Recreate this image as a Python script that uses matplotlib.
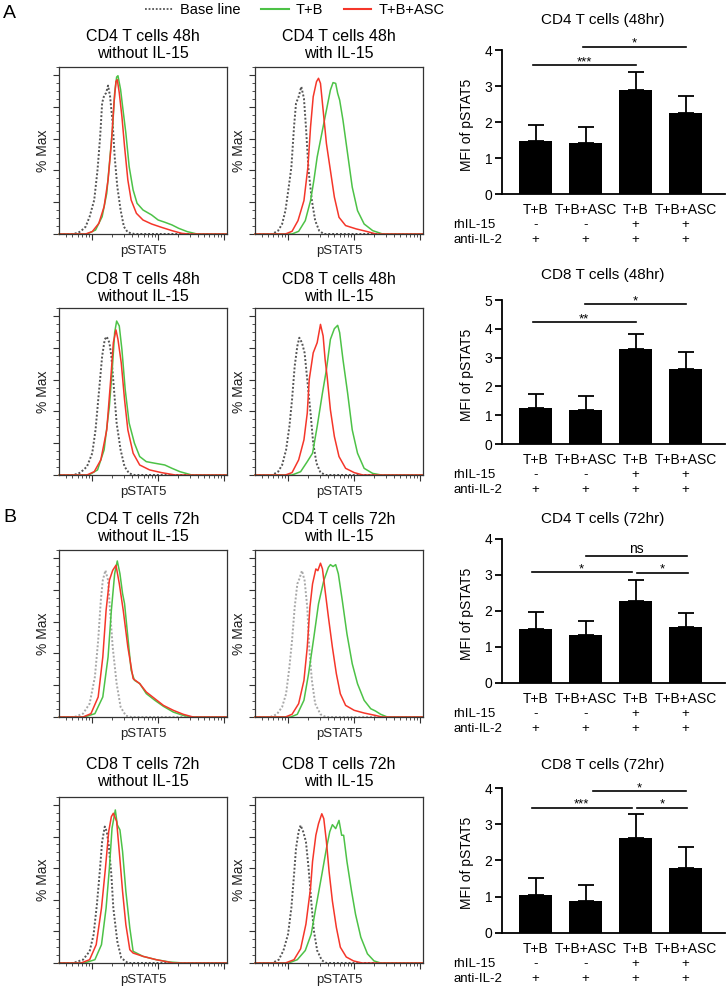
import matplotlib

matplotlib.use("Agg")

import matplotlib.pyplot as plt  # noqa: E402
import numpy as np  # noqa: E402
from matplotlib.lines import Line2D  # noqa: E402
from matplotlib.ticker import FixedLocator, LogLocator, MultipleLocator, NullFormatter  # noqa: E402

plt.rcParams["font.family"] = ["Liberation Sans", "DejaVu Sans"]

# ---------------------------------------------------------------------------
# Flow histograms: (log10 pSTAT5 intensity, % of max)
# ---------------------------------------------------------------------------
CD4_48_NO_BASE = [(1.72, 0), (1.82, 1.5), (1.90, 4.6), (1.96, 10.9), (2.03, 21.4), (2.08, 40.3),
                  (2.12, 61.3), (2.15, 82.4), (2.18, 87), (2.21, 88.7), (2.24, 93.3), (2.27, 86.6),
                  (2.31, 69.7), (2.34, 48.7), (2.38, 29.8), (2.43, 15.1), (2.48, 4.6), (2.54, 1), (2.64, 0)]
CD4_48_NO_TB = [(1.92, 0), (2.05, 2.5), (2.15, 10.9), (2.22, 25.6), (2.27, 48.7), (2.31, 67.6), (2.34, 88.7),
                (2.37, 98.7), (2.39, 99.5), (2.43, 90.8), (2.46, 80.3), (2.51, 63.4), (2.56, 42.4), (2.62, 27.7),
                (2.68, 19.3), (2.77, 15.1), (2.90, 12), (3.0, 8.8), (3.10, 7.4), (3.21, 5.7), (3.31, 3.6),
                (3.44, 1.5), (3.59, 0)]
CD4_48_NO_ASC = [(1.90, 0), (2.0, 1.5), (2.10, 6.7), (2.18, 17.2), (2.24, 34), (2.29, 57.1), (2.33, 82.4),
                 (2.36, 96), (2.38, 97), (2.41, 88.7), (2.45, 73.9), (2.49, 55), (2.54, 34), (2.59, 21.4),
                 (2.67, 13), (2.77, 8.8), (2.90, 6.3), (3.05, 4.2), (3.21, 2.1), (3.36, 0.4), (3.46, 0)]

CD4_48_IL_BASE = [(1.76, 0), (1.85, 2.1), (1.91, 6.3), (1.96, 14.7), (2.01, 29.5), (2.05, 42.1), (2.09, 67.4),
                  (2.12, 82.1), (2.16, 86.3), (2.20, 92.6), (2.24, 85.3), (2.27, 67.4), (2.31, 40), (2.36, 21),
                  (2.41, 8.4), (2.47, 2.1), (2.54, 0)]
CD4_48_IL_TB = [(2.06, 0), (2.16, 1.7), (2.26, 8.4), (2.34, 21), (2.39, 33.7), (2.44, 48.4), (2.51, 63.2),
                (2.58, 77.9), (2.64, 90.5), (2.68, 95.2), (2.72, 94.7), (2.75, 88.4), (2.78, 84.2), (2.83, 71.6),
                (2.90, 50.5), (2.97, 29.5), (3.05, 14.7), (3.15, 6.3), (3.28, 2.1), (3.43, 0)]
CD4_48_IL_ASC = [(1.96, 0), (2.06, 1.7), (2.15, 8.4), (2.24, 21), (2.30, 42.1), (2.34, 67.4), (2.38, 86.3),
                 (2.43, 95.8), (2.46, 97.9), (2.49, 94.7), (2.53, 77.9), (2.58, 56.8), (2.64, 40), (2.70, 23.2),
                 (2.77, 10.5), (2.87, 5.3), (3.03, 3.2), (3.18, 1.7), (3.33, 0)]

CD8_48_NO_BASE = [(1.72, 0), (1.82, 1.5), (1.92, 5.3), (2.0, 13.7), (2.05, 28.4), (2.10, 51.6), (2.15, 74.7),
                  (2.19, 85.3), (2.22, 87), (2.26, 83.2), (2.29, 74.7), (2.33, 53.7), (2.37, 32.6),
                  (2.43, 15.8), (2.49, 5.3), (2.56, 1), (2.64, 0)]
CD8_48_NO_TB = [(1.95, 0), (2.08, 3.2), (2.18, 15.8), (2.26, 43.2), (2.31, 70.5), (2.34, 89.5), (2.37, 96.8),
                (2.41, 93.7), (2.45, 78.9), (2.50, 53.7), (2.56, 32.6), (2.64, 20), (2.72, 11.6), (2.82, 8.4),
                (2.95, 7.4), (3.10, 6.3), (3.21, 4.2), (3.33, 2.1), (3.51, 0)]
CD8_48_NO_ASC = [(1.92, 0), (2.03, 2.1), (2.13, 9.5), (2.22, 28.4), (2.28, 60), (2.32, 83.2), (2.36, 91.2),
                 (2.39, 85.3), (2.44, 70.5), (2.49, 47.4), (2.54, 28.4), (2.62, 13.7), (2.72, 6.3),
                 (2.87, 3.2), (3.05, 1.5), (3.26, 0)]

CD8_48_IL_BASE = [(1.76, 0), (1.85, 2.1), (1.91, 6.3), (1.97, 15.8), (2.02, 30.5), (2.06, 47.4), (2.10, 68.4),
                  (2.14, 81.1), (2.17, 86.3), (2.21, 83.2), (2.25, 76.8), (2.29, 60), (2.34, 38.9), (2.38, 20),
                  (2.43, 7.4), (2.49, 1.5), (2.57, 0)]
CD8_48_IL_TB = [(2.06, 0), (2.19, 2.1), (2.29, 8.4), (2.37, 13.7), (2.44, 30.5), (2.52, 51.6), (2.58, 66.3),
                (2.64, 85.3), (2.70, 92), (2.75, 94.1), (2.78, 89.5), (2.83, 72.6), (2.90, 51.6), (2.97, 28.4),
                (3.05, 13.7), (3.15, 4.2), (3.28, 1), (3.41, 0)]
CD8_48_IL_ASC = [(1.96, 0), (2.06, 1.5), (2.16, 9.5), (2.24, 22.1), (2.29, 38.9), (2.32, 60), (2.38, 76.8),
                 (2.44, 83.2), (2.49, 94.7), (2.53, 87.4), (2.56, 72.6), (2.59, 62.1), (2.64, 41), (2.70, 24.2),
                 (2.77, 11.6), (2.87, 4.2), (3.0, 1.5), (3.13, 0)]

CD4_72_NO_BASE = [(1.73, 0), (1.86, 2.1), (1.96, 8.4), (2.04, 25.2), (2.09, 48.2), (2.13, 73.4), (2.16, 86),
                  (2.20, 92.2), (2.24, 86), (2.27, 67.1), (2.31, 44), (2.37, 21), (2.43, 6.3), (2.51, 0.8),
                  (2.59, 0)]
CD4_72_NO_TB = [(1.88, 0), (2.04, 2.1), (2.16, 12.6), (2.24, 37.7), (2.29, 67.1), (2.34, 90.1), (2.38, 98.1),
                (2.42, 90.1), (2.46, 77.6), (2.49, 71.3), (2.54, 50.3), (2.59, 29.4), (2.64, 23.1), (2.72, 21),
                (2.82, 14.7), (2.95, 10.5), (3.08, 6.7), (3.23, 3.1), (3.38, 1), (3.51, 0)]
CD4_72_NO_ASC = [(1.86, 0), (1.98, 2.1), (2.09, 12.6), (2.16, 37.7), (2.21, 67.1), (2.26, 86), (2.31, 92.2),
                 (2.36, 95.4), (2.41, 83.9), (2.47, 67.1), (2.54, 44), (2.62, 24.1), (2.72, 21), (2.82, 15.7),
                 (2.95, 11.5), (3.08, 7.3), (3.23, 4.2), (3.38, 1.7), (3.53, 0)]

CD4_72_IL_BASE = [(1.73, 0), (1.83, 1.7), (1.91, 6.3), (1.97, 14.6), (2.02, 31.4), (2.06, 48.1), (2.10, 69),
                  (2.14, 83.7), (2.17, 86.8), (2.21, 92), (2.25, 85.8), (2.29, 69), (2.32, 43.9), (2.36, 23),
                  (2.41, 8.4), (2.49, 1.7), (2.57, 0)]
CD4_72_IL_TB = [(2.04, 0), (2.14, 1.7), (2.24, 10.5), (2.31, 27.2), (2.39, 50.2), (2.46, 71.1), (2.54, 85.8),
                (2.61, 94.1), (2.64, 95.8), (2.68, 94.6), (2.72, 95.8), (2.76, 90), (2.82, 73.2), (2.89, 52.3),
                (2.97, 33.5), (3.05, 20.9), (3.15, 10.5), (3.25, 5.2), (3.32, 3.8), (3.40, 1.7), (3.50, 0)]
CD4_72_IL_ASC = [(1.96, 0), (2.06, 1.7), (2.16, 8.4), (2.24, 23), (2.29, 43.9), (2.33, 69), (2.37, 83.7),
                 (2.42, 93.1), (2.45, 92), (2.49, 96.7), (2.52, 93.1), (2.56, 79.5), (2.61, 62.8), (2.67, 43.9),
                 (2.73, 27.2), (2.79, 14.6), (2.87, 7.3), (3.0, 4.2), (3.15, 2.5), (3.32, 1), (3.42, 0)]

CD8_72_NO_BASE = [(1.71, 0), (1.86, 2.1), (1.96, 7.4), (2.02, 17.9), (2.07, 36.8), (2.11, 55.8), (2.15, 76.8),
                  (2.19, 86.3), (2.22, 83.2), (2.25, 74.7), (2.29, 55.8), (2.32, 34.7), (2.38, 13.7),
                  (2.44, 3.2), (2.54, 0)]
CD8_72_NO_TB = [(1.88, 0), (2.04, 2.1), (2.14, 11.6), (2.21, 34.7), (2.26, 60), (2.30, 85.3), (2.35, 96.8),
                (2.38, 87.4), (2.42, 84.2), (2.46, 70.5), (2.51, 45.3), (2.57, 22.1), (2.62, 7.4), (2.77, 4.2),
                (2.97, 2.1), (3.18, 0.6), (3.38, 0)]
CD8_72_NO_ASC = [(1.83, 0), (1.96, 2.1), (2.06, 11.6), (2.14, 34.7), (2.20, 60), (2.25, 83.2), (2.29, 92.6),
                 (2.32, 94.7), (2.37, 89.5), (2.41, 70.5), (2.46, 45.3), (2.51, 24.2), (2.57, 8.4), (2.62, 6.3),
                 (2.77, 4.2), (2.97, 2.1), (3.23, 0)]

CD8_72_IL_BASE = [(1.76, 0), (1.86, 2.1), (1.93, 7.9), (2.0, 18.3), (2.05, 35), (2.09, 55.8), (2.12, 72.5),
                  (2.16, 83.3), (2.19, 87.1), (2.23, 82.9), (2.27, 76.7), (2.31, 60), (2.35, 39.2), (2.39, 20.4),
                  (2.44, 7.9), (2.51, 1.7), (2.58, 0)]
CD8_72_IL_TB = [(2.01, 0), (2.14, 2.1), (2.26, 7.9), (2.35, 18.3), (2.42, 35), (2.51, 55.8), (2.58, 72.5),
                (2.63, 83), (2.67, 87.5), (2.72, 85), (2.77, 90.2), (2.81, 80.8), (2.84, 80.8), (2.89, 64.2),
                (2.96, 45.4), (3.02, 30.8), (3.10, 16.3), (3.20, 5.8), (3.30, 1.3), (3.40, 0)]
CD8_72_IL_ASC = [(1.96, 0), (2.09, 2.1), (2.19, 9), (2.27, 24.6), (2.34, 47.5), (2.37, 64.2), (2.42, 80.8),
                 (2.46, 88.1), (2.51, 94.4), (2.54, 91.3), (2.58, 76.7), (2.62, 57.9), (2.67, 39.2),
                 (2.73, 22.5), (2.79, 10), (2.88, 3.8), (2.99, 1.3), (3.12, 0)]

HIST_TITLES = [
    "CD4 T cells 48h\nwithout IL-15", "CD4 T cells 48h\nwith IL-15",
    "CD8 T cells 48h\nwithout IL-15", "CD8 T cells 48h\nwith IL-15",
    "CD4 T cells 72h\nwithout IL-15", "CD4 T cells 72h\nwith IL-15",
    "CD8 T cells 72h\nwithout IL-15", "CD8 T cells 72h\nwith IL-15",
]

# ---------------------------------------------------------------------------
# Bar charts: MFI of pSTAT5 (mean and upper error)
# ---------------------------------------------------------------------------
GROUPS = ["T+B", "T+B+ASC", "T+B", "T+B+ASC"]
RHIL15 = ["-", "-", "+", "+"]
ANTI_IL2 = ["+", "+", "+", "+"]

CD4_48_MEAN = [1.48, 1.41, 2.89, 2.24]
CD4_48_ERR = [0.44, 0.46, 0.49, 0.47]
CD8_48_MEAN = [1.24, 1.17, 3.29, 2.60]
CD8_48_ERR = [0.49, 0.51, 0.53, 0.58]
CD4_72_MEAN = [1.51, 1.32, 2.29, 1.56]
CD4_72_ERR = [0.46, 0.41, 0.58, 0.39]
CD8_72_MEAN = [1.04, 0.89, 2.61, 1.78]
CD8_72_ERR = [0.47, 0.43, 0.66, 0.59]

# significance brackets: (from bar, to bar, height, label)
CD4_48_SIG = [(-0.05, 2.0, 3.58, "***"), (0.95, 3.0, 4.09, "*")]
CD8_48_SIG = [(-0.05, 2.0, 4.22, "**"), (0.99, 3.0, 4.85, "*")]
CD4_72_SIG = [(-0.07, 1.92, 3.08, "*"), (2.03, 3.04, 3.06, "*"), (1.01, 3.03, 3.54, "ns")]
CD8_72_SIG = [(-0.07, 1.92, 3.46, "***"), (2.03, 3.03, 3.45, "*"), (1.15, 3.0, 3.91, "*")]

BAR_TITLES = ["CD4 T cells (48hr)", "CD8 T cells (48hr)", "CD4 T cells (72hr)", "CD8 T cells (72hr)"]

W, H = 726, 990
PT = 0.72  # points per pixel at dpi 100
GREEN, RED = "#4dc247", "#f5362a"
XMIN, XMAX = 1.5, 4.04


def box(x0, y0, x1, y1):
    return [x0 / W, 1 - y1 / H, (x1 - x0) / W, (y1 - y0) / H]


def hist_panel(fig, rect, title, title_y, base, tb, asc, base_color):
    ax = fig.add_axes(rect)
    for pts, color, style, lw in ((base, base_color, (0, (1, 1)), 1.4), (tb, GREEN, "-", 1.1),
                                  (asc, RED, "-", 1.1)):
        lx = [XMIN] + [p[0] for p in pts] + [XMAX]
        ly = [0] + [p[1] for p in pts] + [0]
        ax.plot(10 ** np.array(lx), ly, color=color, linestyle=style, lw=lw, clip_on=False)
    ax.set_xscale("log")
    ax.set_xlim(10 ** XMIN, 10 ** XMAX)
    ax.set_ylim(0, 105)
    ax.xaxis.set_major_locator(FixedLocator([1e2, 1e3, 1e4]))
    ax.xaxis.set_minor_locator(LogLocator(base=10, subs=np.arange(2, 10)))
    ax.xaxis.set_major_formatter(NullFormatter())
    ax.xaxis.set_minor_formatter(NullFormatter())
    ax.yaxis.set_major_locator(MultipleLocator(20))
    ax.yaxis.set_minor_locator(MultipleLocator(5))
    ax.yaxis.set_major_formatter(NullFormatter())
    ax.tick_params(which="major", length=4, width=0.8, color="#333333", direction="out")
    ax.tick_params(which="minor", length=2, width=0.6, color="#333333", direction="out")
    for s in ax.spines.values():
        s.set_linewidth(0.9)
        s.set_color("#333333")
    ax.annotate("pSTAT5", xy=(0.5, 0), xycoords="axes fraction", xytext=(0, -17 * PT),
                textcoords="offset points", ha="center", va="center", fontsize=9.5, color="#222222")
    ax.annotate("% Max", xy=(0, 0.5), xycoords="axes fraction", xytext=(-16 * PT, 0),
                textcoords="offset points", ha="center", va="center", rotation=90, fontsize=10,
                color="#222222")
    cx = rect[0] + rect[2] / 2
    fig.text(cx, 1 - title_y / H, title, ha="center", va="center", fontsize=11.5, linespacing=1.15)
    return ax


def bar_panel(fig, rect, means, errs, sigs, ymax, title, title_y):
    ax = fig.add_axes(rect)
    x = np.arange(len(means))
    ax.bar(x, means, width=0.66, color="black", zorder=2)
    ax.errorbar(x, means, yerr=[np.zeros(len(errs)), errs], fmt="none", ecolor="black",
                elinewidth=1.3, capsize=6, capthick=1.3, zorder=1)
    ax.set_xlim(-0.67, 3.79)
    ax.set_ylim(0, ymax)
    ax.set_yticks(range(ymax + 1))
    ax.set_xticks([])
    ax.spines[["top", "right"]].set_visible(False)
    for s in ("left", "bottom"):
        ax.spines[s].set_linewidth(1.3)
    ax.tick_params(axis="y", length=5, width=1.3, labelsize=10, pad=2)
    for i in range(len(means)):
        for lab, off, fs in ((GROUPS[i], 16, 10), (RHIL15[i], 31, 9.5), (ANTI_IL2[i], 46, 9.5)):
            ax.annotate(lab, xy=(x[i], 0), xycoords=("data", "axes fraction"), xytext=(0, -off * PT),
                        textcoords="offset points", ha="center", va="center", fontsize=fs)
    for lab, off in (("rhIL-15", 31), ("anti-IL-2", 46)):
        ax.annotate(lab, xy=(-1.65, 0), xycoords=("data", "axes fraction"), xytext=(0, -off * PT),
                    textcoords="offset points", ha="left", va="center", fontsize=9.5,
                    annotation_clip=False)
    for a, b, y, lab in sigs:
        ax.plot([a, b], [y, y], color="black", lw=1.2, clip_on=False)
        if lab == "ns":
            ax.annotate(lab, xy=((a + b) / 2, y), xytext=(0, 7 * PT), textcoords="offset points",
                        ha="center", va="center", fontsize=10, annotation_clip=False)
        else:
            ax.annotate(lab, xy=((a + b) / 2, y), xytext=(0, 3 * PT), textcoords="offset points",
                        ha="center", va="center", fontsize=9.5, annotation_clip=False)
    ax.text(-0.157, 0.48, "MFI of pSTAT5", transform=ax.transAxes, rotation=90, ha="center",
            va="center", fontsize=10)
    fig.text(603 / W, 1 - title_y / H, title, ha="center", va="center", fontsize=11)
    return ax


def main():
    fig = plt.figure(figsize=(W / 100, H / 100), dpi=100)

    dark, light = "#555555", "#a8a8a8"
    col1, col2 = (59.3, 226.7), (255, 423)
    rows = [(67, 234, 45), (308, 475, 288), (550, 717, 528), (797, 963, 773)]
    curves = [
        (CD4_48_NO_BASE, CD4_48_NO_TB, CD4_48_NO_ASC, CD4_48_IL_BASE, CD4_48_IL_TB, CD4_48_IL_ASC, dark),
        (CD8_48_NO_BASE, CD8_48_NO_TB, CD8_48_NO_ASC, CD8_48_IL_BASE, CD8_48_IL_TB, CD8_48_IL_ASC, dark),
        (CD4_72_NO_BASE, CD4_72_NO_TB, CD4_72_NO_ASC, CD4_72_IL_BASE, CD4_72_IL_TB, CD4_72_IL_ASC, light),
        (CD8_72_NO_BASE, CD8_72_NO_TB, CD8_72_NO_ASC, CD8_72_IL_BASE, CD8_72_IL_TB, CD8_72_IL_ASC, dark),
    ]
    for r, ((y0, y1, ty), c) in enumerate(zip(rows, curves)):
        hist_panel(fig, box(col1[0], y0, col1[1], y1), HIST_TITLES[2 * r], ty, c[0], c[1], c[2], c[6])
        hist_panel(fig, box(col2[0], y0, col2[1], y1), HIST_TITLES[2 * r + 1], ty, c[3], c[4], c[5], c[6])

    bar_panel(fig, box(502, 50, 725, 194), CD4_48_MEAN, CD4_48_ERR, CD4_48_SIG, 4, BAR_TITLES[0], 20)
    bar_panel(fig, box(502, 300, 725, 444), CD8_48_MEAN, CD8_48_ERR, CD8_48_SIG, 5, BAR_TITLES[1], 275)
    bar_panel(fig, box(502, 539, 725, 683), CD4_72_MEAN, CD4_72_ERR, CD4_72_SIG, 4, BAR_TITLES[2], 519)
    bar_panel(fig, box(502, 788, 725, 932.7), CD8_72_MEAN, CD8_72_ERR, CD8_72_SIG, 4, BAR_TITLES[3], 765)

    handles = [Line2D([], [], color=dark, ls=(0, (1, 1)), lw=1.3),
               Line2D([], [], color=GREEN, lw=1.5),
               Line2D([], [], color=RED, lw=1.5)]
    fig.legend(handles, ["Base line", "T+B", "T+B+ASC"], loc="center left",
               bbox_to_anchor=(145 / W, 1 - 10 / H), ncol=3, frameon=False, fontsize=10.5,
               handlelength=1.9, handletextpad=0.5, columnspacing=1.4, borderpad=0, borderaxespad=0)

    fig.text(3 / W, 1 - 14 / H, "A", ha="left", va="center", fontsize=14)
    fig.text(3 / W, 1 - 518 / H, "B", ha="left", va="center", fontsize=14)

    fig.savefig("out.png", dpi=100)


if __name__ == "__main__":
    main()
